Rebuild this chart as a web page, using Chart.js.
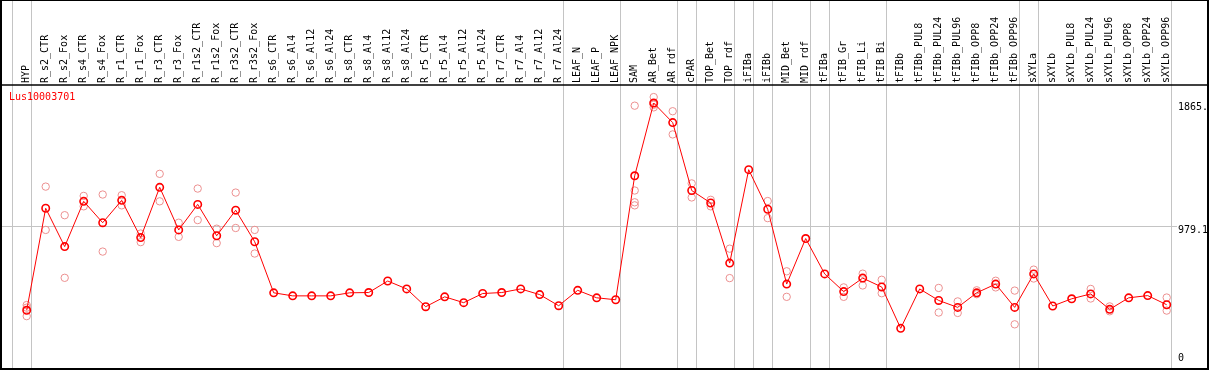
<!DOCTYPE html>
<html>
<head>
<meta charset="utf-8">
<script src="https://cdn.jsdelivr.net/npm/chart.js@4"></script>
<style>
  html, body { margin: 0; padding: 0; background: #fff; }
  canvas { display: block; }
</style>
</head>
<body>
<canvas id="chart" width="1209" height="370"></canvas>
<script>
const GENE_ID = 'Lus10003701';

const categories = [
    'HYP', 'R_s2_CTR', 'R_s2_Fox', 'R_s4_CTR', 'R_s4_Fox', 'R_r1_CTR', 'R_r1_Fox',
    'R_r3_CTR', 'R_r3_Fox', 'R_r1s2_CTR', 'R_r1s2_Fox', 'R_r3s2_CTR', 'R_r3s2_Fox',
    'R_s6_CTR', 'R_s6_Al4', 'R_s6_Al12', 'R_s6_Al24', 'R_s8_CTR', 'R_s8_Al4',
    'R_s8_Al12', 'R_s8_Al24', 'R_r5_CTR', 'R_r5_Al4', 'R_r5_Al12', 'R_r5_Al24',
    'R_r7_CTR', 'R_r7_Al4', 'R_r7_Al12', 'R_r7_Al24', 'LEAF_N', 'LEAF_P', 'LEAF_NPK',
    'SAM', 'AR_Bet', 'AR_rdf', 'cPAR', 'TOP_Bet', 'TOP_rdf', 'iFIBa', 'iFIBb',
    'MID_Bet', 'MID_rdf', 'tFIBa', 'tFIB_Gr', 'tFIB_Li', 'tFIB_Bi', 'tFIBb',
    'tFIBb_PUL8', 'tFIBb_PUL24', 'tFIBb_PUL96', 'tFIBb_OPP8', 'tFIBb_OPP24', 'tFIBb_OPP96',
    'sXYLa', 'sXYLb', 'sXYLb_PUL8', 'sXYLb_PUL24', 'sXYLb_PUL96', 'sXYLb_OPP8',
    'sXYLb_OPP24', 'sXYLb_OPP96',
];

// mean expression per sample
const means = [
    372, 1107, 831, 1157, 1003, 1164, 896,
    1258, 951, 1135, 909, 1093, 866,
    498, 476, 476, 476, 498, 500,
    583, 526, 398, 469, 427, 493,
    500, 526, 485, 405, 516, 462, 448,
    1341, 1865, 1724, 1235, 1145, 712, 1385, 1100,
    561, 889, 634, 507, 604, 540, 242,
    526, 443, 393, 498, 561, 393,
    634, 403, 455, 490, 379, 462,
    478, 412,
];

// individual replicates (only where they show apart from the mean)
const replicates = [
    [410, 391, 330], [1263, 951], [1057, 606], [1196, 1121], [1206, 795], [1201, 1128], [925, 863],
    [1355, 1157], [1003, 901], [1249, 1022], [960, 856], [1220, 965], [951, 781],
    [], [], [], [], [], [],
    [], [], [], [], [], [],
    [], [], [], [], [], [], [],
    [1846, 1235, 1150, 1128], [1908, 1853, 1834], [1806, 1639], [1286, 1185], [1168, 1121], [816, 604], [], [1159, 1036],
    [653, 469], [], [], [537, 469], [636, 551], [592, 495], [],
    [], [533, 356], [436, 353], [516, 488], [585, 537], [514, 271],
    [665, 601], [], [], [526, 457], [400, 365], [],
    [], [464, 370],
];

// index of the last sample in each group (-1 = line before the first one)
const groupEnds = [-1, 0, 28, 31, 34, 35, 37, 38, 39, 41, 42, 45, 52, 53, 60];

const refValues = [1865, 979.1, 0];
const refLabels = ['1865.', '979.1', '0'];
const gridValue = 979.1;

const Y_MIN = -17.7;
const Y_MAX = 1995;

const FONT = '10px "DejaVu Sans Mono", monospace';
const GREY = '#c4c4c4';

const replicatePoints = [];
replicates.forEach((reps, i) => {
    reps.forEach((v) => replicatePoints.push({ x: categories[i], y: v }));
});

const framePlugin = {
    id: 'frame',
    beforeDatasetsDraw(chart) {
        const { ctx, scales: { x, y }, width, height } = chart;
        const step = x.getPixelForValue(1) - x.getPixelForValue(0);
        ctx.save();
        ctx.strokeStyle = GREY;
        ctx.lineWidth = 1;

        // group separators
        groupEnds.forEach((i) => {
            const px = Math.round(x.getPixelForValue(0) + i * step + 4) + 0.5;
            ctx.beginPath();
            ctx.moveTo(px, 0);
            ctx.lineTo(px, height);
            ctx.stroke();
        });

        // reference line
        const gy = Math.round(y.getPixelForValue(gridValue)) + 0.5;
        ctx.beginPath();
        ctx.moveTo(1, gy);
        ctx.lineTo(1177, gy);
        ctx.stroke();

        // black frame
        ctx.strokeStyle = '#000';
        ctx.lineWidth = 2;
        ctx.strokeRect(1, 0, width - 2, height - 1);
        ctx.lineWidth = 1.5;
        ctx.beginPath();
        ctx.moveTo(0, chart.chartArea.top);
        ctx.lineTo(width, chart.chartArea.top);
        ctx.stroke();
        ctx.restore();
    },
    afterDraw(chart) {
        const { ctx, scales: { y } } = chart;
        ctx.save();
        ctx.font = FONT;
        ctx.fillStyle = '#ff0000';
        ctx.textBaseline = 'middle';
        ctx.fillText(GENE_ID, 9, chart.chartArea.top + 12);

        ctx.fillStyle = '#000';
        refValues.forEach((v, i) => {
            const py = y.getPixelForValue(v);
            ctx.textBaseline = v === 0 ? 'bottom' : 'top';
            ctx.fillText(refLabels[i], 1178, v === 0 ? py + 1 : py - 1);
        });
        ctx.restore();
    },
};

new Chart(document.getElementById('chart'), {
    type: 'line',
    plugins: [framePlugin],
    data: {
        labels: categories,
        datasets: [
            {
                data: means,
                order: 0,
                borderColor: '#ff0000',
                borderWidth: 1,
                pointRadius: 3.7,
                pointBorderWidth: 1.6,
                pointBorderColor: '#ff0000',
                pointBackgroundColor: 'rgba(0,0,0,0)',
                tension: 0,
            },
            {
                data: replicatePoints,
                order: 1,
                showLine: false,
                pointRadius: 3.7,
                pointBorderWidth: 1,
                pointBorderColor: '#ec9090',
                pointBackgroundColor: 'rgba(0,0,0,0)',
            },
        ],
    },
    options: {
        responsive: false,
        animation: false,
        events: [],
        layout: {
            padding: { left: 26.7, right: 42.3, top: 0, bottom: 1 },
        },
        plugins: {
            legend: { display: false },
            tooltip: { enabled: false },
        },
        scales: {
            x: {
                type: 'category',
                position: 'top',
                offset: false,
                grid: { display: false, drawTicks: false },
                border: { display: false },
                ticks: {
                    autoSkip: false,
                    minRotation: 90,
                    maxRotation: 90,
                    padding: 2,
                    labelOffset: 12,
                    color: '#000',
                    font: { family: '"DejaVu Sans Mono", monospace', size: 10 },
                },
                afterFit(scale) {
                    scale.height = 85;
                },
            },
            y: {
                display: false,
                min: Y_MIN,
                max: Y_MAX,
            },
        },
    },
});
</script>
</body>
</html>
